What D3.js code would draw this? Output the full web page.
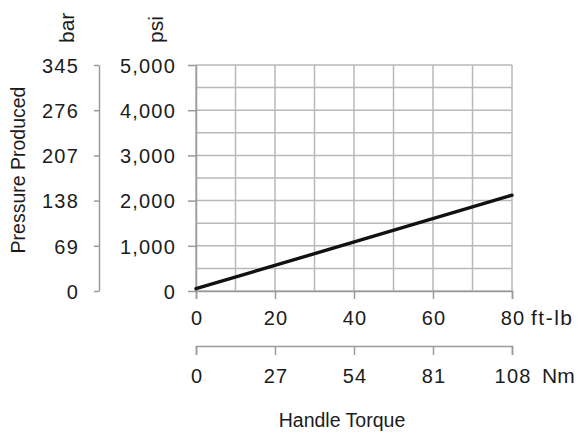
<!DOCTYPE html>
<html>
<head>
<meta charset="utf-8">
<script src="https://cdn.jsdelivr.net/npm/d3@7"></script>
<style>
  body { margin: 0; background: #fff; }
  svg { display: block; font-family: "Liberation Sans", Arial, sans-serif; }
  .tick text { fill: #1c1c1c; }
</style>
</head>
<body>
<svg id="chart" width="579" height="434"></svg>
<script>
// handle torque (ft-lb) vs pressure produced (psi)
const torqueFtLb = [0, 80]
const pressurePsi = [50, 2120]

const ftLbTicks = [0, 20, 40, 60, 80]
const nmTicks = [0, 27, 54, 81, 108]
const psiTicks = [0, 1000, 2000, 3000, 4000, 5000]
const barTicks = [0, 69, 138, 207, 276, 345]

const plotLeft = 196, plotRight = 512, plotTop = 65, plotBottom = 291
const axisColor = '#9a9a9a'
const gridColor = '#b8b8b8'
const textColor = '#1c1c1c'

const svg = d3.select('#chart')

const x = d3.scaleLinear().domain([0, 80]).range([plotLeft, plotRight])
const xNm = d3.scaleLinear().domain([0, 108]).range([plotLeft, plotRight])
const y = d3.scaleLinear().domain([0, 5000]).range([plotBottom, plotTop])
const yBar = d3.scaleLinear().domain([0, 345]).range([plotBottom, plotTop])

// grid
const grid = svg.append('g').attr('class', 'grid')
grid.selectAll('line.v')
  .data(d3.range(0, 81, 10))
  .join('line')
  .attr('class', 'v')
  .attr('x1', d => x(d)).attr('x2', d => x(d))
  .attr('y1', plotTop).attr('y2', plotBottom)
  .attr('stroke', gridColor).attr('stroke-width', 1.5)
grid.selectAll('line.h')
  .data(d3.range(0, 5001, 500))
  .join('line')
  .attr('class', 'h')
  .attr('x1', plotLeft).attr('x2', plotRight)
  .attr('y1', d => y(d)).attr('y2', d => y(d))
  .attr('stroke', gridColor).attr('stroke-width', 1.5)

function styleAxis(g) {
  g.select('.domain').attr('stroke', axisColor).attr('stroke-width', 1.5)
  g.selectAll('.tick line').attr('stroke', axisColor).attr('stroke-width', 1.5)
  g.selectAll('.tick text')
    .attr('font-size', 20)
    .attr('letter-spacing', 1.2)
}

// psi axis
const gPsi = svg.append('g')
  .attr('transform', `translate(${plotLeft},0)`)
  .call(d3.axisLeft(y).tickValues(psiTicks).tickFormat(d3.format(',')).tickSize(8).tickSizeOuter(0).tickPadding(12))
styleAxis(gPsi)
gPsi.selectAll('.tick text').attr('dy', '0.36em')

// bar axis
const gBar = svg.append('g')
  .attr('transform', 'translate(99,0)')
  .call(d3.axisLeft(yBar).tickValues(barTicks).tickSize(5).tickSizeOuter(0).tickPadding(15))
styleAxis(gBar)
gBar.selectAll('.tick text').attr('dy', '0.36em')

// ft-lb axis
const gFt = svg.append('g')
  .attr('transform', `translate(0,${plotBottom})`)
  .call(d3.axisBottom(x).tickValues(ftLbTicks).tickSize(8).tickSizeOuter(8))
styleAxis(gFt)
gFt.selectAll('.tick text').attr('y', 34).attr('dy', 0).attr('dx', 0.6)

// Nm axis
const gNm = svg.append('g')
  .attr('transform', 'translate(0,346)')
  .call(d3.axisBottom(xNm).tickValues(nmTicks).tickSize(9).tickSizeOuter(9))
styleAxis(gNm)
gNm.selectAll('.tick text').attr('y', 37).attr('dy', 0).attr('dx', 0.6)

// pressure line
const line = d3.line()
  .x((d, i) => x(torqueFtLb[i]))
  .y(d => y(d))
svg.append('path')
  .datum(pressurePsi)
  .attr('d', line)
  .attr('fill', 'none')
  .attr('stroke', '#111')
  .attr('stroke-width', 3.4)
  .attr('stroke-linecap', 'round')

// unit labels
svg.append('text').attr('x', 531).attr('y', 325)
  .attr('font-size', 21).attr('letter-spacing', 1.5).attr('fill', textColor).text('ft-lb')
svg.append('text').attr('x', 542).attr('y', 383)
  .attr('font-size', 21).attr('fill', textColor).text('Nm')

svg.append('text')
  .attr('transform', 'translate(74,43) rotate(-90)')
  .attr('font-size', 21).attr('fill', textColor).text('bar')
svg.append('text')
  .attr('transform', 'translate(163,43) rotate(-90)')
  .attr('font-size', 21).attr('fill', textColor).text('psi')

// titles
svg.append('text')
  .attr('transform', 'translate(25,170) rotate(-90)')
  .attr('text-anchor', 'middle')
  .attr('font-size', 19.5).attr('fill', textColor)
  .text('Pressure Produced')
svg.append('text')
  .attr('x', 342).attr('y', 427)
  .attr('text-anchor', 'middle')
  .attr('font-size', 19.5).attr('fill', textColor)
  .text('Handle Torque')
</script>
</body>
</html>
